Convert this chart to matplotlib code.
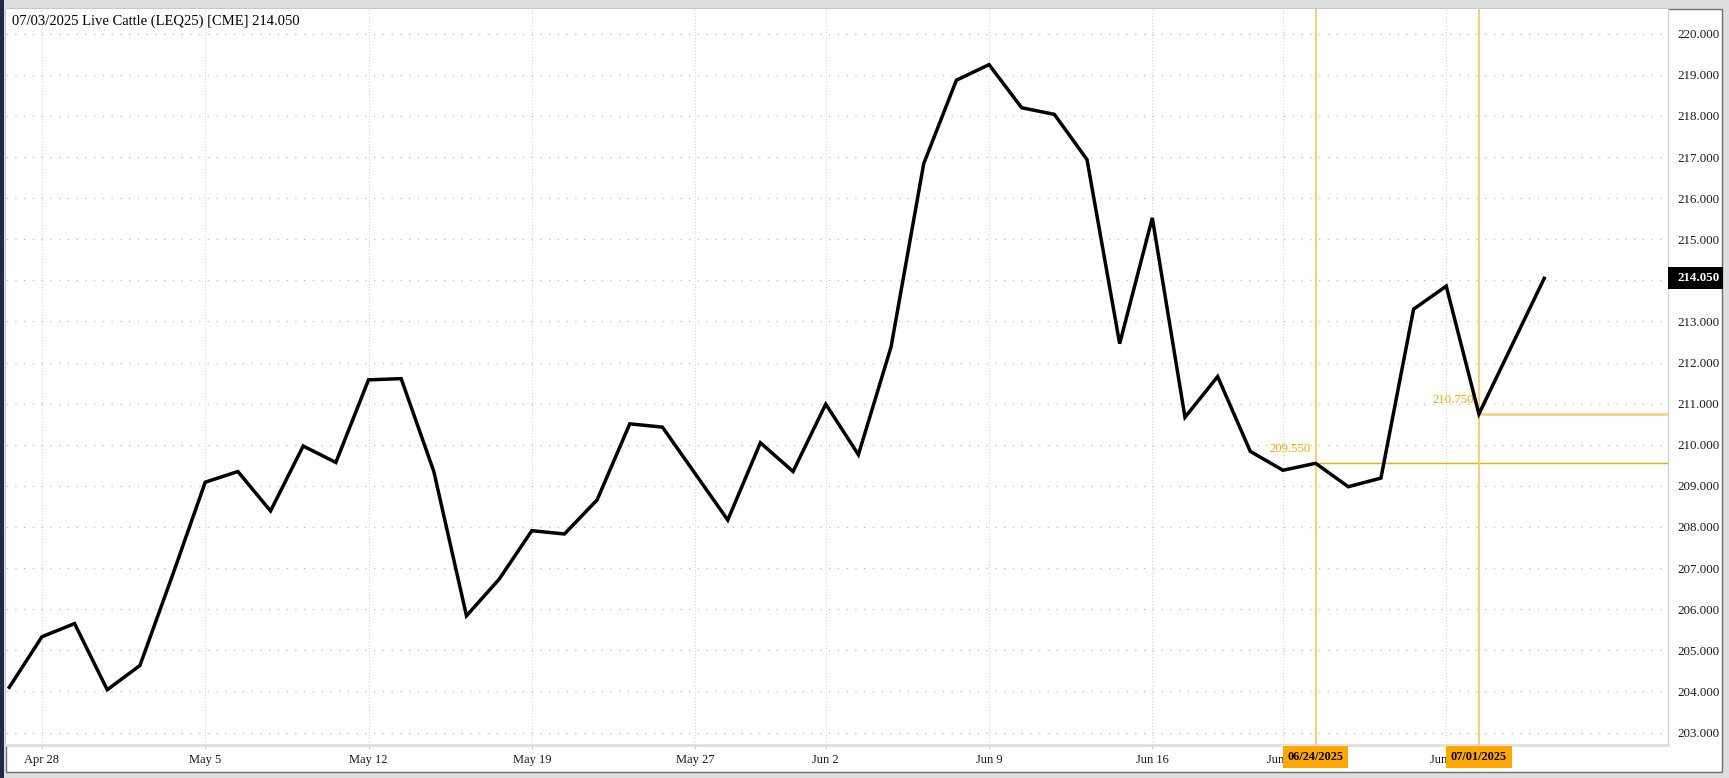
import numpy as np
import matplotlib.pyplot as plt
from matplotlib.patches import Rectangle
from matplotlib.transforms import blended_transform_factory

# trading days shown on the chart
dates = ['Apr 25', 'Apr 28', 'Apr 29', 'Apr 30', 'May 1', 'May 2',
         'May 5', 'May 6', 'May 7', 'May 8', 'May 9',
         'May 12', 'May 13', 'May 14', 'May 15', 'May 16',
         'May 19', 'May 20', 'May 21', 'May 22', 'May 23',
         'May 27', 'May 28', 'May 29', 'May 30',
         'Jun 2', 'Jun 3', 'Jun 4', 'Jun 5', 'Jun 6',
         'Jun 9', 'Jun 10', 'Jun 11', 'Jun 12', 'Jun 13',
         'Jun 16', 'Jun 17', 'Jun 18', 'Jun 20',
         'Jun 23', 'Jun 24', 'Jun 25', 'Jun 26', 'Jun 27',
         'Jun 30', 'Jul 1', 'Jul 2', 'Jul 3']
prices = [204.10, 205.33, 205.65, 204.04, 204.63, 206.83,
          209.09, 209.35, 208.39, 209.97, 209.57,
          211.58, 211.61, 209.35, 205.84, 206.73,
          207.91, 207.83, 208.66, 210.51, 210.43,
          209.30, 208.17, 210.05, 209.35,
          210.99, 209.76, 212.38, 216.84, 218.87,
          219.25, 218.20, 218.04, 216.94, 212.46,
          215.52, 210.67, 211.66, 209.84,
          209.38, 209.55, 208.98, 209.19, 213.30,
          213.86, 210.75, 212.40, 214.05]

week_labels = ['Apr 28', 'May 5', 'May 12', 'May 19', 'May 27',
               'Jun 2', 'Jun 9', 'Jun 16', 'Jun 23', 'Jun 30']
y_ticks = list(range(203, 221))
title = '07/03/2025 Live Cattle (LEQ25) [CME] 214.050'

mark_dates = ['Jun 24', 'Jul 1']
mark_labels = ['06/24/2025', '07/01/2025']
mark_values = [209.55, 210.75]
mark_hcolors = ['#f7a800', '#fdd37f']
mark_hwidths = [1.0, 2.0]

serif = 'Liberation Serif'
W, H = 1729, 778

fig = plt.figure(figsize=(W / 100, H / 100), dpi=100, facecolor='#dcdfe2')
# white chart panel and thin window edge
fig.patches.append(Rectangle((6 / W, 1 - 772 / H), (1722 - 6) / W, (772 - 9) / H,
                             transform=fig.transFigure, facecolor='white',
                             edgecolor='#707070', lw=1, zorder=-2))
fig.patches.append(Rectangle((0, 0), 3.5 / W, 1, transform=fig.transFigure,
                             facecolor='#1f2b44', edgecolor='none', zorder=-2))

ax = fig.add_axes([6 / W, 1 - 745 / H, (1668 - 6) / W, (745 - 9) / H])
ax.set_facecolor('white')
x = np.arange(len(prices))

ax.plot(x, prices, color='black', lw=2.5, solid_joinstyle='miter', zorder=5)

ax.set_xlim(-0.10, 50.79)
ax.set_ylim(202.696, 220.603)

# grid
week_pos = [dates.index(d) for d in week_labels]
ax.set_xticks(week_pos)
ax.set_xticklabels(week_labels, family=serif, fontsize=9, color='#1a1a1a')
ax.set_yticks(y_ticks)
last = prices[-1]
# the tick under the last-price tag is hidden by it
ax.set_yticklabels(['' if abs(v - last) < 0.5 else f'{v:.3f}' for v in y_ticks],
                   family=serif, fontsize=9.4, color='#1a1a1a')
ax.grid(axis='y', color='#c4c4c4', linestyle=(0, (1, 5.3)), lw=1)
ax.grid(axis='x', color='#d4d4d4', linestyle=(0, (1, 1.8)), lw=0.8)
ax.yaxis.tick_right()
ax.tick_params(axis='y', length=0, pad=6.5)
ax.tick_params(axis='x', length=3, color='#cccccc', pad=3.5)

for s in ['top', 'left']:
    ax.spines[s].set_visible(False)
ax.spines['right'].set_color('#cccccc')
ax.spines['bottom'].set_color('#dedede')
ax.spines['bottom'].set_linewidth(2)

# marked dates
tr_x = blended_transform_factory(ax.transData, ax.transAxes)
for d, lab, v, hc, hw in zip(mark_dates, mark_labels, mark_values, mark_hcolors, mark_hwidths):
    i = dates.index(d)
    ax.axvline(i, color='#fcc865', lw=1.3, zorder=3)
    ax.hlines(v, i, ax.get_xlim()[1], color=hc, lw=hw, zorder=3)
    ax.text(i - 0.15, v + 0.2, f'{v:.3f}', ha='right', va='bottom', color='#ffa500',
            family=serif, fontsize=9.2, zorder=4)
    ax.text(i, -12 / 736, lab, transform=tr_x, ha='center', va='center',
            family=serif, fontsize=8.8, fontweight='bold', color='black', zorder=10,
            bbox=dict(boxstyle='square,pad=0.38', facecolor='#ffa800', edgecolor='none'))

# last price tag on the price axis
tr_y = blended_transform_factory(ax.transAxes, ax.transData)
ax.add_patch(Rectangle((1.0, last - 0.27), 55 / 1662, 0.54, transform=tr_y,
                       facecolor='black', edgecolor='none', clip_on=False, zorder=10))
ax.text(1.0 + 10 / 1662, last, f'{last:.3f}', transform=tr_y, ha='left', va='center',
        family=serif, fontsize=9.4, fontweight='bold', color='white', zorder=11)

fig.text(11.7 / W, 1 - 21.7 / H, title, ha='left', va='center',
         family=serif, fontsize=10.5, color='black')

fig.savefig('out.png', dpi=100, facecolor=fig.get_facecolor())
